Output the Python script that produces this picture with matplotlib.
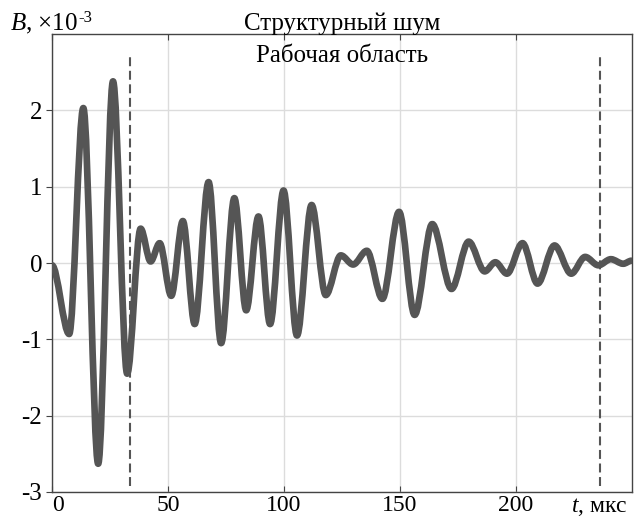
import matplotlib
matplotlib.use("Agg")
import matplotlib.pyplot as plt
from matplotlib.path import Path
from matplotlib.patches import PathPatch

plt.rcParams['font.family'] = ['Liberation Serif', 'DejaVu Serif']
plt.rcParams['mathtext.fontset'] = 'custom'
plt.rcParams['mathtext.rm'] = 'Liberation Serif'
plt.rcParams['mathtext.it'] = 'Liberation Serif:italic'
plt.rcParams['axes.unicode_minus'] = False

# extrema of the signal (t in us, B in 1e-3)
t_ext = [0.0, 7.4, 13.5, 19.9, 26.3, 32.4, 38.2, 42.5, 46.4, 51.4, 56.4, 61.5,
         67.5, 72.9, 78.6, 83.7, 89.0, 94.0, 99.8, 105.6, 111.9, 118.0, 124.5,
         129.8, 135.7, 142.4, 149.6, 156.3, 163.9, 172.2, 179.6, 186.5, 191.1,
         196.1, 202.8, 209.3, 216.6, 223.8, 229.8, 235.5, 240.9, 246.2, 249.8]
b_ext = [-0.03, -0.93, 2.03, -2.63, 2.38, -1.45, 0.45, 0.02, 0.26, -0.43, 0.55, -0.80,
         1.06, -1.05, 0.85, -0.62, 0.61, -0.80, 0.95, -0.95, 0.76, -0.42, 0.10,
         -0.02, 0.16, -0.47, 0.67, -0.68, 0.51, -0.34, 0.28, -0.11, 0.01,
         -0.14, 0.26, -0.27, 0.23, -0.14, 0.08, -0.03, 0.05, -0.01, 0.03]

zone = [33.5, 236.0]
x_ticks = [0, 50, 100, 150, 200]
y_ticks = [-3, -2, -1, 0, 1, 2]

fs = 18

fig = plt.figure(figsize=(6.34, 5.18), dpi=100)
ax = fig.add_axes([52 / 634, 26 / 518, 580 / 634, 458 / 518])

# smooth curve through extrema with horizontal tangents (cubic Bezier segments)
verts = [(t_ext[0], b_ext[0])]
codes = [Path.MOVETO]
for i in range(len(t_ext) - 1):
    d = t_ext[i + 1] - t_ext[i]
    verts += [(t_ext[i] + d / 3, b_ext[i]), (t_ext[i + 1] - d / 3, b_ext[i + 1]),
              (t_ext[i + 1], b_ext[i + 1])]
    codes += [Path.CURVE4] * 3
ax.add_patch(PathPatch(Path(verts, codes), fill=False, edgecolor='#555555',
                       lw=4.8, capstyle='round', joinstyle='round', zorder=3))

for z in zone:
    ax.plot([z, z], [-2.92, 2.75], color='#555555', lw=1.5, dashes=(4.3, 2.2), zorder=4)

ax.set_xlim(0, 250)
ax.set_ylim(-3, 3)
ax.set_xticks(x_ticks)
ax.set_yticks(y_ticks)
ax.set_xticklabels([str(v) for v in x_ticks], fontsize=17)
ax.set_yticklabels([str(v) for v in y_ticks], fontsize=fs)
ax.get_xticklabels()[0].set_horizontalalignment('left')
ax.tick_params(axis='x', direction='in', length=4, pad=2, top=True, color='#444444')
ax.tick_params(axis='y', direction='out', length=4, pad=3, color='#444444')
ax.grid(True, color='#dcdcdc', lw=1.0)
ax.set_axisbelow(True)
for s in ax.spines.values():
    s.set_color('#444444')
    s.set_linewidth(1.0)

ax.set_title('Структурный шум', fontsize=fs, pad=3)
ax.text(0.5, 0.939, 'Рабочая область', transform=ax.transAxes, ha='center',
        va='baseline', fontsize=fs)
ax.text(0.993, -0.008, r'$\mathit{t}$, мкс', transform=ax.transAxes, ha='right',
        va='top', fontsize=17)
ylab = fig.text(10 / 634, 1 - 30 / 518, r'$\mathit{B}$, ×10', ha='left',
                va='baseline', fontsize=fs)
ax.annotate('-3', xy=(1, 1), xycoords=ylab, xytext=(0.5, 1), textcoords='offset points',
            ha='left', va='top', fontsize=12, annotation_clip=False)

fig.savefig('out.png', dpi=100)
